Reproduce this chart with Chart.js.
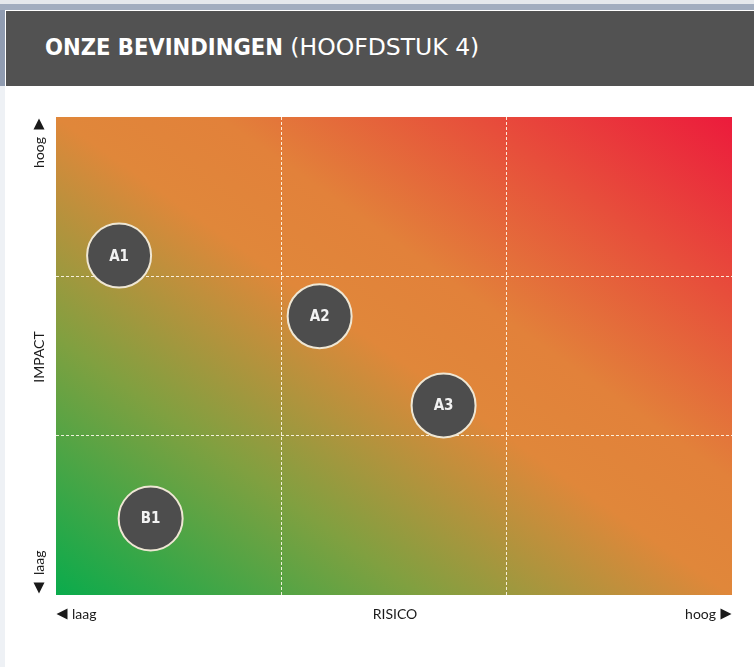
<!DOCTYPE html>
<html>
<head>
<meta charset="utf-8">
<script src="https://cdn.jsdelivr.net/npm/chart.js@4.4.0/dist/chart.umd.min.js"></script>
<style>
    body { margin: 0; width: 754px; height: 667px; background: #ffffff; position: relative; overflow: hidden; font-family: "DejaVu Sans", sans-serif; }
    .top-light { position: absolute; left: 0; top: 0; width: 754px; height: 4px; background: #e5e8ec; }
    .top-band { position: absolute; left: 0; top: 4px; width: 754px; height: 6px; background: #a2adbf; }
    .left-band { position: absolute; left: 0; top: 10px; width: 5px; height: 76px; background: #909cb1; }
    .left-light { position: absolute; left: 0; top: 86px; width: 5px; height: 581px; background: #eef1f5; }
    .header { position: absolute; left: 6px; top: 11px; width: 748px; height: 75px; background: #525252; color: #ffffff; }
    .header h1 { margin: 0; position: absolute; left: 39px; top: 22px; font-size: 23.5px; font-weight: normal; white-space: nowrap; font-family: "DejaVu Sans", sans-serif; }
    .header b { font-weight: bold; font-family: "DejaVu Sans Condensed", "DejaVu Sans", sans-serif; }
    #chartWrap { position: absolute; left: 0; top: 90px; width: 754px; height: 577px; }
</style>
</head>
<body>
<div class="top-light"></div>
<div class="top-band"></div>
<div class="left-band"></div>
<div class="left-light"></div>
<div class="header"><h1><b>ONZE BEVINDINGEN</b> (HOOFDSTUK 4)</h1></div>
<div id="chartWrap"><canvas id="riskChart" width="754" height="577"></canvas></div>

<script>
// Bevindingen: risico (x) tegen impact (y), schaal 0-3
const findingLabels = ['A1', 'A2', 'A3', 'B1'];
const riskValues = [0.28, 1.17, 1.72, 0.42];
const impactValues = [2.13, 1.75, 1.19, 0.48];
const gridTicks = [0, 1, 2, 3];

const points = findingLabels.map((label, i) => ({ x: riskValues[i], y: impactValues[i], r: 32, label: label }));

// Gradient achtergrond: groen linksonder, oranje midden, rood rechtsboven
const matrixBackground = {
    id: 'matrixBackground',
    beforeDraw(chart) {
        const { ctx, chartArea: a } = chart;
        ctx.save();
        ctx.translate(a.left, a.top);
        ctx.scale(a.right - a.left, a.bottom - a.top);
        const g = ctx.createLinearGradient(0, 1, 1, 0);
        g.addColorStop(0, '#0aab4c');
        g.addColorStop(0.27, '#80a040');
        g.addColorStop(0.5, '#e0873a');
        g.addColorStop(0.62, '#e2813a');
        g.addColorStop(1, '#ec1b3c');
        ctx.fillStyle = g;
        ctx.fillRect(0, 0, 1, 1);
        ctx.restore();
    }
};

// Labels in de bubbels en aslabels
const matrixLabels = {
    id: 'matrixLabels',
    afterDatasetsDraw(chart) {
        const { ctx, chartArea: a } = chart;
        const meta = chart.getDatasetMeta(0);
        ctx.save();
        ctx.fillStyle = '#f2f2f2';
        ctx.font = 'bold 15px "DejaVu Sans Condensed", "DejaVu Sans", sans-serif';
        ctx.textAlign = 'center';
        ctx.textBaseline = 'middle';
        meta.data.forEach((el, i) => {
            ctx.fillText(findingLabels[i], el.x, el.y + 1);
        });

        ctx.fillStyle = '#1a1a1a';
        ctx.font = '14px Lato, "Open Sans", sans-serif';
        const bottomY = a.bottom + 19;
        // x-as
        ctx.textAlign = 'center';
        ctx.fillText('RISICO', (a.left + a.right) / 2 + 1, bottomY);
        ctx.textAlign = 'left';
        ctx.fillText('laag', a.left + 16, bottomY);
        ctx.textAlign = 'right';
        ctx.fillText('hoog', a.right - 16, bottomY);
        triangle(ctx, a.left + 6, bottomY, 'left');
        triangle(ctx, a.right - 6, bottomY, 'right');

        // y-as
        const yx = a.left - 17;
        ctx.save();
        ctx.translate(yx, 0);
        ctx.rotate(-Math.PI / 2);
        ctx.textAlign = 'center';
        ctx.fillText('IMPACT', -((a.top + a.bottom) / 2 + 1), 0);
        ctx.textAlign = 'right';
        ctx.fillText('hoog', -(a.top + 20), 0);
        ctx.textAlign = 'left';
        ctx.fillText('laag', -(a.bottom - 20), 0);
        ctx.restore();
        triangle(ctx, yx, a.top + 7, 'up');
        triangle(ctx, yx, a.bottom - 7, 'down');
        ctx.restore();
    }
};

function triangle(ctx, cx, cy, dir) {
    const s = 5.5;
    ctx.beginPath();
    if (dir === 'left') { ctx.moveTo(cx - s, cy); ctx.lineTo(cx + s, cy - s); ctx.lineTo(cx + s, cy + s); }
    if (dir === 'right') { ctx.moveTo(cx + s, cy); ctx.lineTo(cx - s, cy - s); ctx.lineTo(cx - s, cy + s); }
    if (dir === 'up') { ctx.moveTo(cx, cy - s); ctx.lineTo(cx + s, cy + s); ctx.lineTo(cx - s, cy + s); }
    if (dir === 'down') { ctx.moveTo(cx, cy + s); ctx.lineTo(cx + s, cy - s); ctx.lineTo(cx - s, cy - s); }
    ctx.closePath();
    ctx.fill();
}

const gridColor = ctx => (ctx.tick && (ctx.tick.value === 0 || ctx.tick.value === 3)) ? 'rgba(0,0,0,0)' : 'rgba(255,250,235,0.9)';

const ctx = document.getElementById('riskChart').getContext('2d');
const riskChart = new Chart(ctx, {
    type: 'bubble',
    data: {
        datasets: [{
            data: points,
            backgroundColor: '#4d4d4d',
            borderColor: '#efe7d4',
            borderWidth: 2,
            hoverBorderWidth: 2
        }]
    },
    options: {
        responsive: false,
        devicePixelRatio: 1,
        animation: false,
        events: [],
        layout: { autoPadding: false, padding: { left: 56, right: 22, top: 27, bottom: 72 } },
        plugins: { legend: { display: false }, tooltip: { enabled: false } },
        scales: {
            x: {
                min: 0, max: 3,
                afterBuildTicks: axis => { axis.ticks = gridTicks.map(v => ({ value: v })); },
                ticks: { display: false },
                grid: { color: gridColor, lineWidth: 1, drawTicks: false },
                border: { display: false, dash: [3, 2] }
            },
            y: {
                min: 0, max: 3,
                afterBuildTicks: axis => { axis.ticks = gridTicks.map(v => ({ value: v })); },
                ticks: { display: false },
                grid: { color: gridColor, lineWidth: 1, drawTicks: false },
                border: { display: false, dash: [3, 2] }
            }
        }
    },
    plugins: [matrixBackground, matrixLabels]
});
</script>
</body>
</html>
